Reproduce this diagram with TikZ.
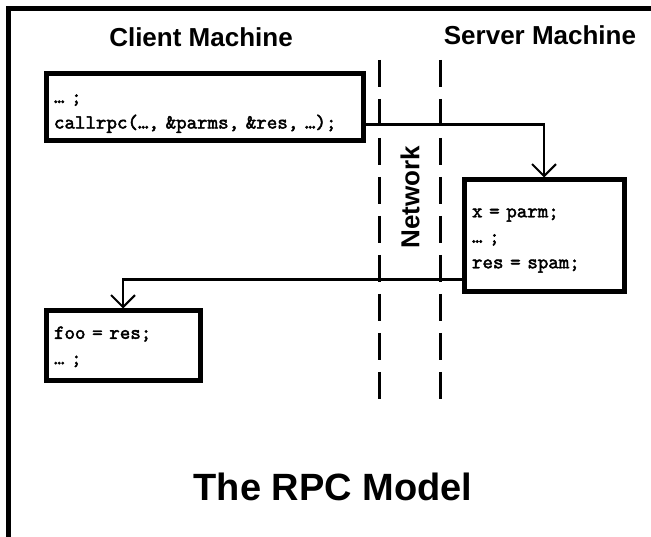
\documentclass[tikz,border=0pt]{standalone}
\usepackage{fontspec}
\setmainfont{Liberation Sans}
\newfontfamily\codett{lmmono10-regular.otf}[FakeBold=2.2]
\usetikzlibrary{arrows.meta}

\begin{document}
\begin{tikzpicture}[x=1pt,y=-1pt,
		head/.style={font=\fontsize{26}{31}\selectfont\bfseries},
		codebox/.style={draw,line width=5pt,anchor=north west,inner xsep=8pt,align=left,
			font=\fontsize{20}{25.5}\selectfont\codett\bfseries,execute at begin node={\rule{0pt}{#1}}},
		codebox/.default=14pt,
		wire/.style={line width=2.6pt,-{Straight Barb[length=12pt,width=24pt,line width=2pt]}},
		net/.style={line width=3pt,dash pattern=on 27pt off 12pt}]
		\useasboundingbox (0,0) rectangle (651,537);
		\draw[line width=5pt] (8.5,537) -- (8.5,8.5) -- (651,8.5);
		\node[head] (client) at (201,37) {Client Machine};
		\node[head] (server) at (540,35) {Server Machine};
		\draw[net] (379,60) -- (379,399);
		\draw[net] (440.5,60) -- (440.5,399);
		\node[head,rotate=90] (network) at (410,197) {Network};
		\node[codebox=21pt,minimum width=317pt,text width=301pt,minimum height=67pt] (call) at (43.5,71.5)
			{… ;\\callrpc(…, \&parms, \&res, …);};
		\node[codebox=18pt,minimum width=160pt,text width=144pt,minimum height=112pt] (proc) at (461.5,177.5)
			{x = parm;\\… ;\\res = spam;};
		\node[codebox,minimum width=154pt,text width=138pt,minimum height=70pt] (ret) at (43.5,308.5)
			{foo = res;\\… ;};
		\draw[wire] ([yshift=-17pt]call.east) -| (proc.north);
		\draw[wire] ([yshift=-43.5pt]proc.west) -| (ret.north);
		\node[font=\fontsize{38}{44}\selectfont\bfseries] (title) at (333,487) {The RPC Model};
	\end{tikzpicture}
\end{document}
